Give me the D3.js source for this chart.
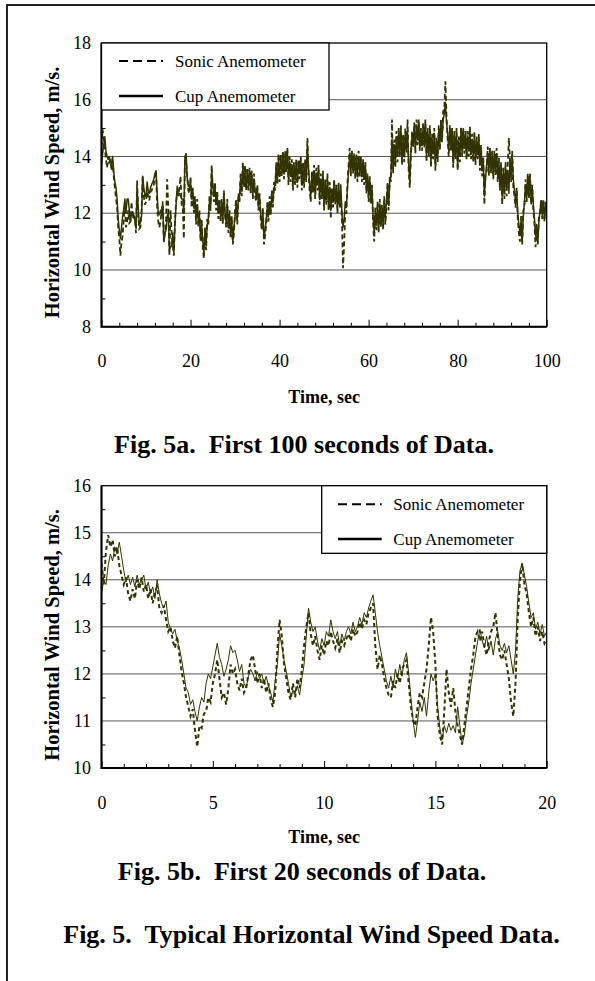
<!DOCTYPE html>
<html>
<head>
<meta charset="utf-8">
<script src="https://cdn.jsdelivr.net/npm/d3@7"></script>
<style>
  html, body { margin: 0; padding: 0; background: #fff; }
  svg { display: block; }
  text { font-family: "Liberation Serif", "Times New Roman", serif; fill: #000; }
</style>
</head>
<body>
<svg id="fig" width="595" height="981"></svg>
<script>
// ---------- Fig. 5a: first 100 s, samples every 0.25 s ----------
const step100 = 0.25;
const cup100 = [
  13.7,14.1,14.4,14.7, 14.2,14.0,13.9,14.0, 13.8,13.75,14.0,13.45, 13.1,12.9,12.5,11.8, 11.4,11.1,11.5,11.9,
  12.15,12.5,12.0,12.5, 12.5,12.1,11.7,12.0, 12.05,11.9,11.75,11.5, 12.85,12.2,11.55,11.7, 11.9,13.3,12.9,12.6,
  12.6,13.1,12.75,12.7, 12.9,13.0,13.1,13.2, 13.4,13.5,12.7,12.0, 11.95,12.1,11.95,12.4, 11.0,11.3,11.4,11.9,
  12.0,10.7,10.8,10.85, 11.3,10.6,11.6,12.3, 12.95,12.65,12.7,12.6, 12.5,12.5,12.0,14.0, 14.1,13.25,12.95,12.95,
  13.1,12.5,12.8,12.2, 12.4,11.8,12.3,11.7, 11.9,11.2,11.6,11.0, 10.6,11.3,10.9,11.6, 11.8,12.4,12.1,13.5,
  13.0,12.6,12.9,12.3, 12.6,12.0,12.4,11.9, 12.3,11.8,12.6,12.0, 11.7,12.3,11.5,12.0, 11.3,11.7,11.0,11.5,
  11.9,12.3,11.8,12.5, 12.6,13.2,12.8,13.6, 13.1,13.5,12.9,13.4, 13.0,13.5,12.9,13.3, 12.7,13.2,12.8,12.6,
  12.9,12.3,12.6,12.0, 11.6,12.0,11.1,11.4, 11.8,12.2,11.9,12.4, 12.1,12.6,12.4,12.9, 13.0,13.6,13.2,13.9,
  13.3,13.9,13.5,14.1, 13.4,14.0,13.6,14.2, 13.2,13.8,13.3,13.7, 13.0,13.6,13.2,13.8, 13.1,13.7,13.4,13.9,
  13.0,13.6,13.1,13.8, 13.3,14.4,13.6,13.0, 12.6,13.3,12.9,13.5, 12.7,13.4,13.0,13.6, 12.5,13.2,12.7,13.3,
  12.3,13.0,12.5,13.2, 12.3,12.9,12.1,12.8, 12.4,13.1,12.5,12.9, 12.2,12.9,12.4,13.0, 12.0,11.5,11.8,12.4,
  12.2,12.9,13.5,14.0, 13.5,14.1,13.6,14.0, 13.4,13.9,13.3,14.0, 13.5,13.9,13.3,13.8, 13.2,13.7,12.9,13.3,
  12.6,13.2,12.5,12.9, 11.9,11.3,12.0,11.6, 12.2,11.5,12.3,11.7, 12.1,11.6,12.4,11.8, 12.4,12.9,12.3,13.1,
  13.3,14.6,13.6,14.4, 13.8,14.7,14.0,14.8, 14.2,14.9,13.9,14.6, 14.0,14.8,14.3,14.9, 13.7,13.1,14.2,14.7,
  14.5,15.0,14.3,15.1, 14.6,15.2,14.4,14.9, 14.4,15.0,14.5,15.2, 14.0,14.8,14.2,14.9, 13.8,14.6,14.1,14.8,
  13.7,14.5,14.0,14.9, 14.4,15.1,14.7,15.3, 15.5,15.9,15.2,14.8, 14.2,15.0,14.4,14.9, 13.8,14.7,14.1,14.8,
  13.6,14.5,14.0,14.9, 14.2,14.9,14.3,14.8, 14.0,14.7,14.2,14.9, 14.1,14.6,14.0,14.7, 13.9,14.5,14.1,14.6,
  13.7,14.3,13.5,13.9, 12.6,13.2,13.7,14.1, 13.5,14.2,13.6,14.0, 13.4,14.0,13.5,14.1, 13.3,13.8,13.0,13.6,
  12.6,13.4,12.8,13.6, 12.9,13.5,12.7,13.9, 13.3,14.0,13.2,12.8, 12.4,12.8,12.0,11.6, 11.3,11.7,11.0,11.9,
  12.4,13.0,12.6,13.3, 12.7,13.2,12.5,12.9, 12.3,11.8,11.2,11.6, 11.0,11.7,12.1,12.4, 11.9,12.4,11.8,12.3,
  12.1
];
const sonic100 = [
  14.35,14.95,14.6,14.3, 13.9,13.6,14.0,13.8, 13.9,13.5,13.85,13.3, 12.9,12.55,12.2,11.5, 11.1,10.5,11.0,11.2,
  11.8,12.3,11.5,11.7, 12.1,11.65,11.7,12.4, 11.8,11.9,11.8,11.3, 13.15,11.9,11.45,11.5, 12.1,13.3,12.6,12.3,
  12.4,12.9,12.55,12.45, 12.75,12.8,12.9,13.0, 13.3,13.5,12.2,11.7, 11.5,11.7,12.1,12.3, 11.0,11.3,11.8,13.2,
  12.2,10.5,12.1,11.3, 10.9,10.5,11.7,12.4, 12.7,12.6,12.9,13.3, 12.3,12.2,11.1,14.0, 13.9,13.3,12.8,12.7,
  13.3,12.2,12.9,12.0, 12.6,11.6,12.5,11.5, 12.1,11.0,11.8,10.8, 10.4,11.5,10.7,11.8, 11.6,12.6,12.3,13.7,
  12.8,12.4,13.1,12.1, 12.8,11.8,12.5,11.7, 12.5,11.6,12.8,11.9, 11.5,12.5,11.3,12.1, 11.1,11.9,10.9,11.3,
  12.1,12.5,11.6,12.7, 12.4,13.4,12.6,13.8, 12.9,13.7,12.8,13.6, 12.8,13.6,12.7,13.5, 12.5,13.4,12.6,12.4,
  13.0,12.1,12.7,11.8, 11.4,12.2,10.9,11.2, 11.6,12.4,11.7,12.6, 11.9,12.8,12.2,13.1, 12.8,13.8,13.0,14.1,
  13.1,14.1,13.3,14.2, 13.2,14.2,13.4,14.3, 13.0,14.0,13.1,13.9, 12.8,13.8,13.0,13.9, 12.9,13.9,13.2,14.0,
  12.8,13.8,12.9,13.9, 13.1,14.65,13.4,12.8, 12.4,13.5,12.7,13.7, 12.5,13.6,12.8,13.7, 12.3,13.4,12.5,13.5,
  12.1,13.2,12.3,13.4, 12.1,13.1,11.8,12.9, 12.2,13.2,12.3,13.0, 12.0,13.1,12.2,12.7, 11.8,10.06,10.9,12.0,
  12.0,13.1,13.7,14.3, 13.3,14.2,13.4,14.1, 13.2,14.1,13.1,14.2, 13.3,14.0,13.1,13.9, 13.0,13.8,12.7,13.4,
  12.4,13.3,12.3,13.0, 11.7,11.0,12.2,11.4, 12.4,11.3,12.5,11.5, 12.3,11.4,12.6,11.6, 12.2,13.1,12.1,13.3,
  13.1,15.3,13.4,14.6, 13.6,14.9,13.8,15.0, 14.0,15.1,13.7,14.8, 13.8,15.0,14.1,15.3, 13.5,12.9,14.0,14.9,
  14.3,15.2,14.1,15.3, 14.4,15.3,14.2,15.0, 14.2,15.2,14.3,15.3, 13.8,15.0,14.0,15.1, 13.6,14.8,13.9,15.0,
  13.5,14.7,13.8,15.1, 14.2,15.3,14.5,15.6, 15.7,16.65,15.4,14.6, 14.0,15.1,14.2,15.0, 13.6,14.9,13.9,15.0,
  13.5,14.7,13.8,15.05, 14.0,15.0,14.1,14.9, 13.9,14.9,14.0,15.05, 13.9,14.8,13.8,14.9, 13.7,14.7,13.9,14.8,
  13.5,14.4,13.3,14.0, 12.3,13.4,13.5,14.35, 13.3,14.3,13.4,14.2, 13.2,14.2,13.3,14.3, 13.1,14.0,12.8,13.8,
  12.3,13.6,12.5,13.8, 12.6,13.7,14.65,13.9, 13.1,14.2,12.9,12.6, 12.2,12.9,11.8,11.3, 11.0,11.9,10.9,12.1,
  12.2,13.2,12.4,13.4, 12.5,13.4,12.3,13.0, 12.1,11.6,10.8,11.4, 10.9,11.9,12.0,12.5, 11.8,12.5,11.7,12.4,
  12.0
];
const xMajor100 = [0, 20, 40, 60, 80, 100];
const xMinor100 = [4, 8, 12, 16, 24, 28, 32, 36, 44, 48, 52, 56, 64, 68, 72, 76, 84, 88, 92, 96];
const yMajor100 = [8, 10, 12, 14, 16, 18];
const yMinor100 = [9, 11, 13, 15, 17];

// ---------- Fig. 5b: first 20 s, samples every 0.1 s ----------
const step20 = 0.1;
const cup20 = [
  13.7,14.0,13.9,14.3,14.55,14.4,14.7,14.55,14.8,14.5,
  14.2,13.95,14.1,13.9,14.05,13.85,14.1,13.9,14.0,14.1,
  13.8,13.95,13.7,13.85,13.6,14.0,13.7,13.5,13.4,13.55,
  13.1,12.95,12.85,12.95,12.7,12.55,12.3,12.0,11.7,11.6,
  11.35,11.45,11.2,11.0,11.3,11.5,11.4,11.8,12.0,11.9,
  12.15,12.4,12.65,12.35,12.2,11.95,12.1,12.3,12.6,12.45,
  12.5,12.3,12.05,12.2,11.8,11.7,11.95,12.1,12.0,11.85,
  12.05,11.9,12.0,11.8,11.95,11.75,11.6,11.4,11.85,12.2,
  12.85,12.6,12.3,12.05,11.8,11.5,11.65,11.6,11.75,11.55,
  11.9,12.2,12.8,13.4,13.1,12.9,13.0,12.7,12.5,12.75,
  12.6,12.9,12.8,13.15,12.9,12.75,12.9,12.6,12.85,12.7,
  12.9,13.0,12.85,13.1,12.9,13.0,13.2,13.05,13.3,13.2,
  13.4,13.55,13.68,13.3,12.9,12.6,12.35,12.1,11.85,11.7,
  11.95,11.7,12.1,11.9,12.2,11.95,12.3,12.45,12.0,11.5,
  11.0,10.65,11.0,11.4,11.2,11.5,11.1,11.6,12.0,11.85,
  12.0,11.3,10.85,10.6,10.9,10.75,10.95,10.8,10.9,10.75,
  11.3,10.9,10.5,10.7,11.1,11.4,11.8,12.1,12.4,12.7,
  12.95,12.7,12.55,12.8,12.5,12.7,12.4,12.75,12.9,12.6,
  12.5,12.65,12.45,12.6,12.3,12.0,12.5,13.6,14.2,14.35,
  14.1,13.85,13.5,13.2,13.3,12.95,13.1,12.85,13.05,12.8,
  12.9
];
const sonic20 = [
  14.35,13.9,14.6,14.95,14.7,14.85,14.5,14.7,14.3,14.1,
  13.9,14.05,13.7,13.55,13.8,13.6,14.0,13.8,14.05,13.75,
  13.9,13.6,13.8,13.5,13.75,13.85,13.4,13.3,13.45,13.15,
  12.9,13.0,12.7,12.55,12.8,12.4,12.05,11.8,11.5,11.3,
  11.1,11.25,10.8,10.45,10.9,10.85,11.15,11.2,11.5,11.4,
  11.8,12.0,12.3,11.9,11.5,11.6,11.35,11.7,12.2,12.0,
  12.1,11.8,11.65,11.9,11.6,11.7,12.0,12.3,12.4,12.1,
  11.8,12.0,11.7,11.9,11.6,11.8,11.45,11.3,11.6,12.5,
  13.15,12.8,12.2,11.9,11.6,11.45,11.8,11.5,11.9,11.7,
  12.1,12.6,13.0,13.3,12.85,12.6,12.8,12.5,12.3,12.6,
  12.4,12.7,12.6,12.9,12.7,12.55,12.75,12.45,12.7,12.6,
  12.75,12.85,12.7,12.95,12.8,12.9,13.1,12.95,13.15,13.05,
  13.3,13.4,13.5,12.6,12.1,12.4,12.2,11.9,11.7,11.55,
  11.5,11.85,11.7,12.0,11.8,12.1,12.2,12.3,11.8,11.3,
  11.0,10.9,11.3,11.6,11.5,11.8,12.1,12.6,13.2,12.9,
  12.2,11.1,10.7,10.5,11.2,12.1,11.6,11.3,11.7,11.2,
  10.9,10.7,10.5,10.9,11.3,11.7,12.1,12.4,12.8,12.9,
  12.7,12.9,12.6,12.4,12.7,12.9,13.0,13.3,12.8,12.4,
  12.3,12.5,12.2,11.9,11.4,11.1,11.8,13.2,14.0,14.35,
  13.9,13.7,13.3,13.0,13.2,12.8,13.0,12.7,12.9,12.65,
  12.75
];
const xMajor20 = [0, 5, 10, 15, 20];
const xMinor20 = [1, 2, 3, 4, 6, 7, 8, 9, 11, 12, 13, 14, 16, 17, 18, 19];
const yMajor20 = [10, 11, 12, 13, 14, 15, 16];
const yMinor20 = [10.5, 11.5, 12.5, 13.5, 14.5, 15.5];

const seriesNames = ["Sonic Anemometer", "Cup Anemometer"];
const captions = [
  "Fig. 5a.  First 100 seconds of Data.",
  "Fig. 5b.  First 20 seconds of Data.",
  "Fig. 5.  Typical Horizontal Wind Speed Data."
];

const TRACE = "#333300";
const SERIF = '"Liberation Serif", "Times New Roman", serif';
const svg = d3.select("#fig");

// page frame (top and left rules)
svg.append("path")
  .attr("d", "M7,981V5H595")
  .attr("fill", "none")
  .attr("stroke", "#222")
  .attr("stroke-width", 2);

function drawPanel(p) {
  const x = d3.scaleLinear().domain(p.xDomain).range([p.left, p.right]);
  const y = d3.scaleLinear().domain(p.yDomain).range([p.bottom, p.top]);
  const g = svg.append("g");

  // horizontal gridlines at the labelled values
  g.append("g").selectAll("line")
    .data(p.yMajor.filter(v => v > p.yDomain[0] && v < p.yDomain[1]))
    .join("line")
    .attr("x1", p.left).attr("x2", p.right)
    .attr("y1", d => y(d)).attr("y2", d => y(d))
    .attr("stroke", "#555").attr("stroke-width", 1);

  // data traces
  const clipId = "clip-" + p.id;
  svg.append("clipPath").attr("id", clipId)
    .append("rect")
    .attr("x", p.left).attr("y", p.top)
    .attr("width", p.right - p.left).attr("height", p.bottom - p.top);

  const line = d3.line().x((d, i) => x(i * p.step)).y(d => y(d));
  const traces = g.append("g").attr("clip-path", `url(#${clipId})`);
  traces.append("path").datum(p.cup)
    .attr("d", line).attr("fill", "none")
    .attr("stroke", TRACE).attr("stroke-width", p.cupWidth)
    .attr("stroke-linejoin", "round");
  traces.append("path").datum(p.sonic)
    .attr("d", line).attr("fill", "none")
    .attr("stroke", TRACE).attr("stroke-width", p.sonicWidth)
    .attr("stroke-dasharray", p.sonicDash);

  // plot frame
  g.append("rect")
    .attr("x", p.left).attr("y", p.top)
    .attr("width", p.right - p.left).attr("height", p.bottom - p.top)
    .attr("fill", "none").attr("stroke", "#000").attr("stroke-width", 1.3);

  // x axis: major ticks with labels, minor ticks without
  const styleAxis = sel => {
    sel.select(".domain").remove();
    sel.attr("font-family", SERIF).attr("font-size", 18);
    sel.selectAll("text").attr("fill", "#000");
  };
  g.append("g").attr("transform", `translate(0,${p.bottom})`)
    .call(d3.axisBottom(x).tickValues(p.xMajor).tickSize(-7).tickPadding(28).tickFormat(d3.format("d")))
    .call(styleAxis);
  g.append("g").attr("transform", `translate(0,${p.bottom})`)
    .call(d3.axisBottom(x).tickValues(p.xMinor).tickSize(-4).tickFormat(""))
    .call(styleAxis);

  // y axis
  g.append("g").attr("transform", `translate(${p.left},0)`)
    .call(d3.axisLeft(y).tickValues(p.yMajor).tickSize(0).tickPadding(10.5).tickFormat(d3.format("d")))
    .call(styleAxis);
  g.append("g").attr("transform", `translate(${p.left},0)`)
    .call(d3.axisLeft(y).tickValues(p.yMinor).tickSize(-4).tickFormat(""))
    .call(styleAxis);

  // heavier left and bottom axis lines
  g.append("path")
    .attr("d", `M${p.left},${p.top}V${p.bottom}H${p.right}`)
    .attr("fill", "none").attr("stroke", "#000").attr("stroke-width", 2);

  // axis titles
  g.append("text")
    .attr("transform", `translate(59,${p.yTitleY}) rotate(-90)`)
    .attr("text-anchor", "middle")
    .attr("font-weight", "bold").attr("font-size", 20.5)
    .text("Horizontal Wind Speed, m/s.");
  g.append("text")
    .attr("x", (p.left + p.right) / 2).attr("y", p.xTitleY)
    .attr("text-anchor", "middle")
    .attr("font-weight", "bold").attr("font-size", 18)
    .text("Time, sec");

  // legend
  const L = p.legend;
  const lg = g.append("g");
  lg.append("rect")
    .attr("x", L.x0).attr("y", L.y0)
    .attr("width", L.x1 - L.x0).attr("height", L.y1 - L.y0)
    .attr("fill", "#fff").attr("stroke", "#000").attr("stroke-width", 1.3);
  const items = lg.selectAll("g.item").data(seriesNames).join("g")
    .attr("transform", (d, i) => `translate(0,${L.rows[i]})`);
  items.append("line")
    .attr("x1", L.lx0).attr("x2", L.lx1)
    .attr("stroke", "#000")
    .attr("stroke-width", (d, i) => i === 0 ? 2 : 2.5)
    .attr("stroke-dasharray", (d, i) => i === 0 ? "9,5" : null);
  items.append("text")
    .attr("x", L.tx).attr("y", 5.8)
    .attr("font-size", 17)
    .text(d => d);
}

drawPanel({
  id: "a", left: 101.5, right: 546.7, top: 43, bottom: 326.7,
  xDomain: [0, 100], yDomain: [8, 18],
  xMajor: xMajor100, xMinor: xMinor100, yMajor: yMajor100, yMinor: yMinor100,
  cup: cup100, sonic: sonic100, step: step100,
  cupWidth: 1.5, sonicWidth: 1.8, sonicDash: "5,3",
  yTitleY: 192.5, xTitleY: 402.5,
  legend: { x0: 101.5, x1: 329, y0: 43, y1: 110, rows: [61, 96], lx0: 119, lx1: 163, tx: 175 }
});

drawPanel({
  id: "b", left: 101.5, right: 546.7, top: 485.7, bottom: 768,
  xDomain: [0, 20], yDomain: [10, 16],
  xMajor: xMajor20, xMinor: xMinor20, yMajor: yMajor20, yMinor: yMinor20,
  cup: cup20, sonic: sonic20, step: step20,
  cupWidth: 1, sonicWidth: 2, sonicDash: "4,3",
  yTitleY: 635, xTitleY: 843,
  legend: { x0: 321.7, x1: 546.7, y0: 485.7, y1: 553.3, rows: [504.3, 539], lx0: 338, lx1: 381.7, tx: 393.3 }
});

// figure captions
svg.selectAll("text.caption")
  .data(captions)
  .join("text")
  .attr("class", "caption")
  .attr("x", (d, i) => [304, 302, 311.5][i])
  .attr("y", (d, i) => [453, 879.5, 942.5][i])
  .attr("text-anchor", "middle")
  .attr("font-weight", "bold")
  .attr("font-size", 26)
  .style("white-space", "pre")
  .text(d => d);
</script>
</body>
</html>
